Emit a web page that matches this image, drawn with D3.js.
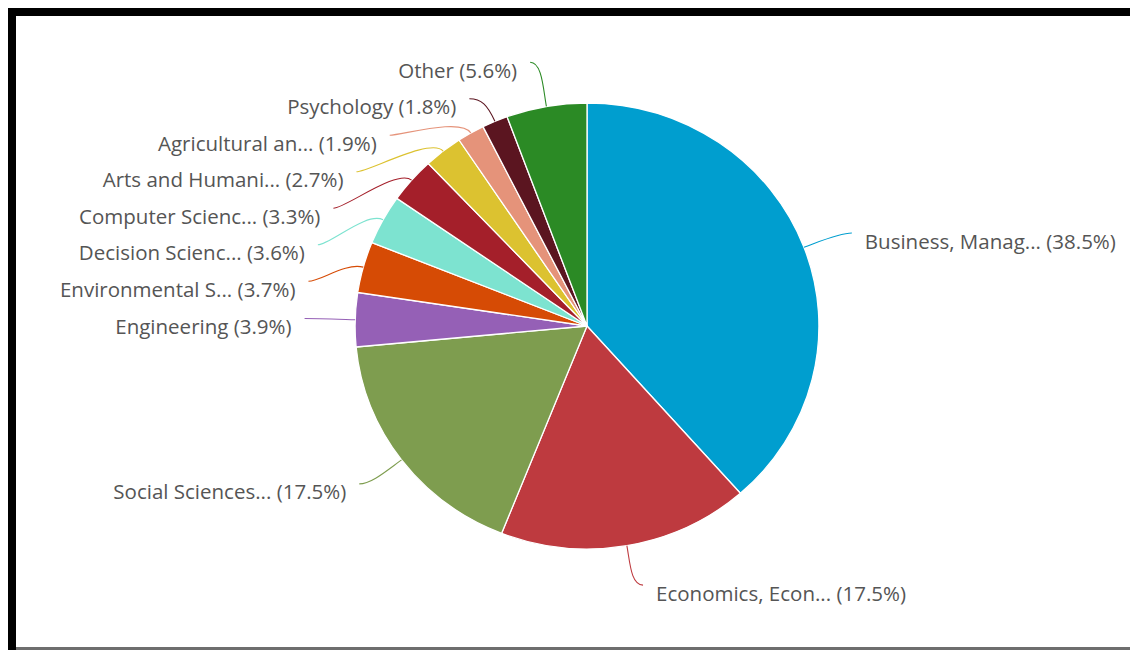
<!DOCTYPE html>
<html>
<head>
<meta charset="utf-8">
<script src="https://cdn.jsdelivr.net/npm/d3@7/dist/d3.min.js"></script>
<style>
  html, body { margin: 0; padding: 0; background: #fff; }
  svg { display: block; }
  .lbl { font-family: "Open Sans", sans-serif; font-size: 20.5px; fill: #555; }
</style>
</head>
<body>
<svg id="chart" width="1130" height="650"></svg>
<script>
// Subject areas and their share of documents (%)
const categories = [
  "Business, Manag...",
  "Economics, Econ...",
  "Social Sciences...",
  "Engineering",
  "Environmental S...",
  "Decision Scienc...",
  "Computer Scienc...",
  "Arts and Humani...",
  "Agricultural an...",
  "Psychology",
  "Other"
];
const shares = [38.5, 17.5, 17.5, 3.9, 3.7, 3.6, 3.3, 2.7, 1.9, 1.8, 5.6];
const sliceColors = [
  "#009ecf", "#be3a3f", "#7e9d4f", "#9560b6", "#d64b05", "#7de3d0",
  "#a41f2a", "#dcc230", "#e5937a", "#5b1520", "#2b8a25"
];

const data = categories.map((name, i) => ({ name, value: shares[i], color: sliceColors[i] }));

const W = 1130, H = 650;
const cx = 587, cy = 326;     // pie centre
const r = 223;                // pie radius
const sx = 1.04;              // horizontal stretch of the pie
const labelR = 263;           // label ring radius
const pad = 9;                // gap between label ring and connector end
const textGap = 13;           // gap between connector end and text
const slot = 36.5;            // vertical space per label
const textDy = 7.5;           // text centre below connector end
const plotTop = 44, plotBottom = 630;

const svg = d3.select("#chart");

// frame
svg.append("rect").attr("x", 8).attr("y", 8).attr("width", W - 8).attr("height", 8).attr("fill", "#000");
svg.append("rect").attr("x", 8).attr("y", 8).attr("width", 8).attr("height", H - 8).attr("fill", "#000");
svg.append("rect").attr("x", 16).attr("y", 647).attr("width", W - 16).attr("height", 3).attr("fill", "#6e6e6e");

const pie = d3.pie().sort(null).value(d => d.value).startAngle(0).endAngle(2 * Math.PI);
const arcs = pie(data);
const arcGen = d3.arc().innerRadius(0).outerRadius(r);

const pieG = svg.append("g").attr("transform", `translate(${cx},${cy}) scale(${sx},1)`);
pieG.selectAll("path.slice")
  .data(arcs)
  .join("path")
  .attr("class", "slice")
  .attr("d", arcGen)
  .attr("fill", d => d.data.color)
  .attr("stroke", "#fff")
  .attr("stroke-width", 1.3)
  .attr("vector-effect", "non-scaling-stroke");

// label placement
const labels = arcs.map(a => {
  const mid = (a.startAngle + a.endAngle) / 2;
  return {
    arc: a,
    mid,
    right: Math.sin(mid) > 0,
    target: cy - labelR * Math.cos(mid)
  };
});

function distribute(items, lo, hi, size) {
  items.sort((a, b) => a.target - b.target);
  let boxes = items.map(d => ({ targets: [d.target], items: [d], size, pos: d.target - size / 2 }));
  let changed = true;
  while (changed) {
    changed = false;
    boxes.forEach(b => {
      const m = d3.mean(b.targets);
      b.pos = Math.min(Math.max(lo, m - b.size / 2), hi - b.size);
    });
    for (let i = boxes.length - 1; i > 0; i--) {
      const a = boxes[i - 1], b = boxes[i];
      if (a.pos + a.size > b.pos) {
        a.targets = a.targets.concat(b.targets);
        a.items = a.items.concat(b.items);
        a.size += b.size;
        boxes.splice(i, 1);
        changed = true;
      }
    }
  }
  boxes.forEach(b => b.items.forEach((d, k) => { d.y = b.pos + size * (k + 0.5); }));
}

distribute(labels.filter(d => !d.right), plotTop, plotBottom, slot);
distribute(labels.filter(d => d.right), plotTop, plotBottom, slot);

labels.forEach(d => {
  const sgn = d.right ? 1 : -1;
  const yy = (d.y < cy - r - 4 || d.y > cy + r + 4) ? d.target : d.y;
  const dy = Math.max(-labelR, Math.min(labelR, yy - cy));
  d.x = cx + sgn * (sx * Math.sqrt(labelR * labelR - dy * dy) + pad);
  const s = Math.sin(d.mid), c = Math.cos(d.mid);
  d.touch = [cx + sx * r * s, cy - r * c];
  d.ctrl = [cx + sx * (r + 18) * s, cy - (r + 18) * c];
});

// soft connector: gentle curve from the label end into the slice edge
const conn = d => {
  const p = d3.path();
  p.moveTo(d.x, d.y);
  p.bezierCurveTo(d.x + (d.right ? -12 : 12), d.y,
    d.ctrl[0], d.ctrl[1],
    d.touch[0], d.touch[1]);
  return p.toString();
};

svg.append("g").selectAll("path")
  .data(labels)
  .join("path")
  .attr("d", conn)
  .attr("fill", "none")
  .attr("stroke", d => d.arc.data.color)
  .attr("stroke-width", 1.1);

svg.append("g").selectAll("text")
  .data(labels)
  .join("text")
  .attr("class", "lbl")
  .attr("x", d => d.x + (d.right ? textGap : -textGap))
  .attr("y", d => d.y + textDy)
  .attr("dominant-baseline", "central")
  .attr("text-anchor", d => d.right ? "start" : "end")
  .text(d => `${d.arc.data.name} (${d.arc.data.value}%)`);
</script>
</body>
</html>
